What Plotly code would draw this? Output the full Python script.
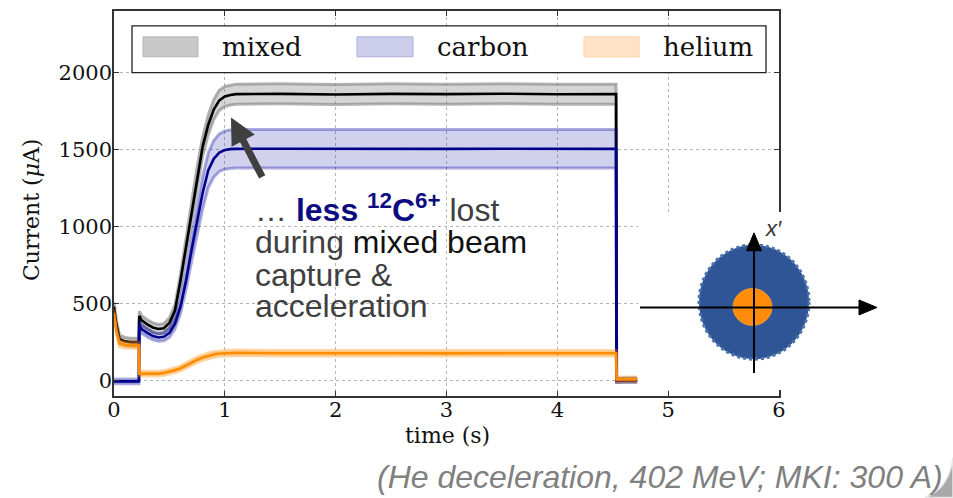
import plotly.graph_objects as go

# ---------------- data ----------------
time_s = [0.00, 0.02, 0.05, 0.10, 0.15, 0.20, 0.225, 0.228, 0.25,
          0.30, 0.35, 0.40, 0.45, 0.50, 0.55, 0.60, 0.65, 0.70, 0.75,
          0.80, 0.85, 0.90, 0.95, 1.00, 1.05, 1.10,
          1.50, 2.00, 2.50, 3.00, 3.50, 4.00,
          4.53, 4.535, 4.60, 4.72]

mixed = [480, 370, 270, 255, 250, 250, 250, 420, 392,
         365, 345, 335, 340, 375, 455, 650, 870, 1100, 1330,
         1520, 1660, 1760, 1820, 1845, 1855, 1860,
         1862, 1858, 1862, 1860, 1863, 1859,
         1860, 0, 5, 5]
mixed_std = [30, 28, 25, 25, 25, 25, 25, 30, 30,
             30, 30, 30, 30, 32, 36, 42, 48, 54, 58,
             61, 63, 64, 65, 65, 65, 65,
             65, 65, 65, 65, 65, 65,
             65, 12, 12, 12]

carbon = [-5, -5, -5, -5, -5, -5, -5, 360, 335,
          310, 290, 280, 285, 310, 370, 480, 650, 850, 1030,
          1220, 1365, 1440, 1480, 1497, 1503, 1505,
          1506, 1504, 1506, 1505, 1506, 1504,
          1505, 0, 0, 0]
carbon_std = [15, 15, 15, 15, 15, 15, 15, 30, 28,
              26, 25, 25, 26, 30, 36, 46, 60, 76, 90,
              104, 113, 119, 122, 124, 125, 125,
              125, 125, 125, 125, 125, 125,
              125, 12, 12, 12]

helium = [440, 330, 240, 232, 230, 228, 228, 45, 45,
          42, 45, 45, 50, 58, 68, 80, 100, 118, 135,
          150, 162, 170, 176, 178, 179, 180,
          178, 176, 178, 177, 178, 176,
          178, 8, 8, 8]
helium_std = [25, 22, 20, 20, 20, 20, 20, 15, 15,
              15, 15, 15, 15, 15, 16, 16, 17, 17, 18,
              18, 18, 18, 18, 18, 18, 18,
              18, 18, 18, 18, 18, 18,
              18, 15, 15, 15]

series_names = ["mixed", "carbon", "helium"]
x_ticks = [0, 1, 2, 3, 4, 5, 6]
y_ticks = [0, 500, 1000, 1500, 2000]

# ---------------- styles ----------------
line_colors = {"mixed": "#000000", "carbon": "#00008b", "helium": "#ff8c00"}
band_fill = {"mixed": "rgba(128,128,128,0.33)",
             "carbon": "rgba(0,0,160,0.18)",
             "helium": "rgba(255,140,0,0.22)"}
band_edge = {"mixed": "rgba(128,128,128,0.6)",
             "carbon": "rgba(0,0,160,0.32)",
             "helium": "rgba(255,140,0,0.35)"}
legend_patch = {"mixed": ("#c8c8c8", "#b4b4b4"),
                "carbon": ("#cdcdec", "#acacdf"),
                "helium": ("#ffe3c8", "#ffd2a6")}

SERIF = "DejaVu Serif"
SANS = "Liberation Sans, Arial"

# plot-area geometry in pixels (for placing decorations)
W_FIG, H_FIG = 953, 498
PL, PR, PT, PB = 114, 779, 9, 396
PW, PH = PR - PL, PB - PT


def px(x):
    return (x - PL) / PW


def py(y):
    return (PB - y) / PH


fig = go.Figure()

data = {"mixed": (mixed, mixed_std),
        "carbon": (carbon, carbon_std),
        "helium": (helium, helium_std)}

for name in series_names:
    mean, std = data[name]
    upper = [m + s for m, s in zip(mean, std)]
    lower = [m - s for m, s in zip(mean, std)]
    fig.add_trace(go.Scatter(x=time_s, y=upper, mode="lines",
                             line=dict(color=band_edge[name], width=3),
                             showlegend=False, hoverinfo="skip"))
    fig.add_trace(go.Scatter(x=time_s, y=lower, mode="lines",
                             line=dict(color=band_edge[name], width=3),
                             fill="tonexty", fillcolor=band_fill[name],
                             showlegend=False, hoverinfo="skip"))
    fig.add_trace(go.Scatter(x=time_s, y=mean, mode="lines", name=name,
                             line=dict(color=line_colors[name], width=2.6),
                             showlegend=False))

axis_common = dict(showline=True, linecolor="#333333", linewidth=1.5,
                   mirror="allticks", ticks="inside", ticklen=5,
                   tickcolor="#333333", tickwidth=1,
                   showgrid=True, gridcolor="#b5b5b5", griddash="dot",
                   gridwidth=1, zeroline=False,
                   tickfont=dict(family=SERIF, size=21, color="#111111"))

fig.update_xaxes(range=[0, 6], tickvals=x_ticks, ticklabelstandoff=-6,
                 ticktext=[str(v) for v in x_ticks], **axis_common)
fig.update_yaxes(range=[-100, 2400], tickvals=y_ticks, ticklabelstandoff=-4,
                 ticktext=[str(v) for v in y_ticks], **axis_common)

shapes = []
annotations = []

# legend box (white, framed)
shapes.append(dict(type="rect", xref="paper", yref="paper",
                   x0=px(132), x1=px(766), y0=py(71), y1=py(24),
                   fillcolor="white", line=dict(color="#222222", width=1.3),
                   layer="above"))
legend_pos = {"mixed": (143, 198, 220), "carbon": (357, 413, 435),
              "helium": (584, 639, 661)}
for name in series_names:
    a, b, tx = legend_pos[name]
    fcol, ecol = legend_patch[name]
    shapes.append(dict(type="rect", xref="paper", yref="paper",
                       x0=px(a), x1=px(b), y0=py(55), y1=py(35),
                       fillcolor=fcol, line=dict(color=ecol, width=1),
                       layer="above"))
    annotations.append(dict(xref="paper", yref="paper", x=px(tx), y=py(45),
                            xanchor="left", yanchor="middle", showarrow=False,
                            text=name,
                            font=dict(family=SERIF, size=26, color="#111111")))

# axis titles
annotations.append(dict(xref="paper", yref="paper", x=px(447), y=py(436),
                        xanchor="center", yanchor="middle", showarrow=False,
                        text="time (s)",
                        font=dict(family=SERIF, size=22, color="#111111")))
annotations.append(dict(xref="paper", yref="paper", x=px(32), y=py(209),
                        xanchor="center", yanchor="middle", showarrow=False,
                        textangle=-90, text="Current (<i>μ</i>A)",
                        font=dict(family=SERIF, size=22, color="#111111")))

# arrow
annotations.append(dict(xref="paper", yref="paper", x=px(231), y=py(116),
                        ax=32, ay=61, axref="pixel", ayref="pixel",
                        text="", showarrow=True, arrowhead=2, arrowsize=0.75,
                        arrowwidth=7, arrowcolor="#404040"))

# explanatory text
GRAY = "#404040"
NAVY = "#0c0c80"
text_lines = [
    (207, f"<span style='color:{GRAY}'>…</span> <b><span style='color:{NAVY}'>less <sup>12</sup>C<sup>6+</sup></span></b> <span style='color:{GRAY}'>lost</span>"),
    (241, f"<span style='color:{GRAY}'>during</span> <span style='color:#111111'>mixed beam</span>"),
    (274, f"<span style='color:{GRAY}'>capture &amp;</span>"),
    (306, f"<span style='color:{GRAY}'>acceleration</span>"),
]
for yc, txt in text_lines:
    annotations.append(dict(xref="paper", yref="paper", x=px(253), y=py(yc),
                            xanchor="left", yanchor="middle", showarrow=False,
                            text=txt, font=dict(family=SANS, size=32, color=GRAY)))

# white area for the phase-space inset
shapes.append(dict(type="rect", xref="paper", yref="paper",
                   x0=px(638), x1=px(953), y0=py(390), y1=py(211),
                   fillcolor="white", line=dict(width=0), layer="above"))
# beam distributions
shapes.append(dict(type="circle", xref="paper", yref="paper",
                   x0=px(699), x1=px(809), y0=py(359), y1=py(244),
                   fillcolor="#2f5597", line=dict(color="#4f72ad", width=3, dash="dot"),
                   layer="above"))
shapes.append(dict(type="circle", xref="paper", yref="paper",
                   x0=px(733), x1=px(772), y0=py(325), y1=py(288),
                   fillcolor="#ff8c0a", line=dict(color="#ff9a2a", width=1),
                   layer="above"))
# inset axes
shapes.append(dict(type="line", xref="paper", yref="paper",
                   x0=px(640), x1=px(862), y0=py(307), y1=py(307),
                   line=dict(color="black", width=2), layer="above"))
shapes.append(dict(type="line", xref="paper", yref="paper",
                   x0=px(754), x1=px(754), y0=py(373), y1=py(247),
                   line=dict(color="black", width=2), layer="above"))


def tri(points):
    p = " L ".join(f"{px(a)},{py(b)}" for a, b in points)
    return "M " + p + " Z"


shapes.append(dict(type="path", xref="paper", yref="paper",
                   path=tri([(859, 299.5), (877, 307), (859, 314.5)]),
                   fillcolor="black", line=dict(color="black", width=1),
                   layer="above"))
shapes.append(dict(type="path", xref="paper", yref="paper",
                   path=tri([(746.5, 250), (754, 232), (761.5, 250)]),
                   fillcolor="black", line=dict(color="black", width=1),
                   layer="above"))
annotations.append(dict(xref="paper", yref="paper", x=px(773), y=py(228),
                        xanchor="center", yanchor="middle", showarrow=False,
                        text="<i>x′</i>",
                        font=dict(family=SANS, size=22, color="#333333")))

# footnote
annotations.append(dict(xref="paper", yref="paper", x=px(660), y=py(477),
                        xanchor="center", yanchor="middle", showarrow=False,
                        text="<i>(He deceleration, 402 MeV; MKI: 300 A)</i>",
                        font=dict(family=SANS, size=32, color="#808080")))

# page-curl decoration in the corner
curl = (f"M {px(953)},{py(458)} Q {px(949)},{py(489)} {px(925)},{py(498)} "
        f"L {px(953)},{py(498)} Z")
shapes.append(dict(type="path", xref="paper", yref="paper", path=curl,
                   fillcolor="#a8a8a8", line=dict(color="#e8e8e8", width=1.5),
                   layer="above"))

fig.update_layout(width=W_FIG, height=H_FIG,
                  margin=dict(l=PL, r=W_FIG - PR, t=PT, b=H_FIG - PB),
                  paper_bgcolor="white", plot_bgcolor="white",
                  showlegend=False, shapes=shapes, annotations=annotations)

fig.write_html("out.html", config={"displayModeBar": False},
               post_script="document.body.style.margin='0';"
                           "document.body.style.overflow='hidden';")
